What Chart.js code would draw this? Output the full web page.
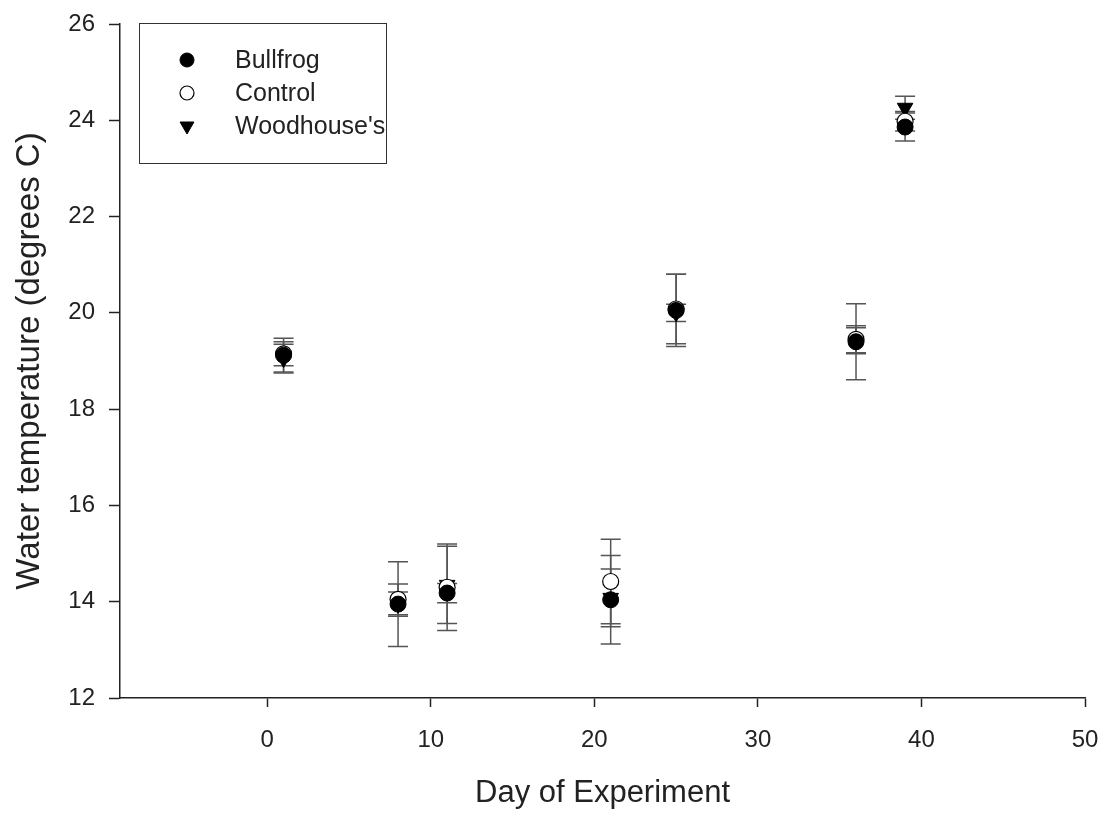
<!DOCTYPE html>
<html>
<head>
<meta charset="utf-8">
<title>Water temperature by day</title>
<script src="https://cdn.jsdelivr.net/npm/chart.js@4.4.1/dist/chart.umd.min.js"></script>
<style>
  html, body { margin: 0; padding: 0; background: #fff; }
  #wrap { width: 1105px; height: 815px; }
</style>
</head>
<body>
<div id="wrap"><canvas id="tempChart" width="1105" height="815"></canvas></div>
<script>
// sampling days and mean water temperature per tank type
const days = [1, 8, 11, 21, 25, 36, 39];

const bullfrog = [19.12, 13.95, 14.18, 14.04, 20.05, 19.40, 23.86];
const bullfrogErr = [0.35, 0.88, 0.20, 0.92, 0.75, 0.79, 0.29];

const control = [19.15, 14.05, 14.30, 14.42, 20.08, 19.45, 23.98];
const controlErr = [0.25, 0.32, 0.90, 0.88, 0.72, 0.28, 0.20];

const woodhouse = [19.05, 13.95, 14.35, 14.08, 20.00, 19.42, 24.26];
const woodhouseErr = [0.30, 0.25, 0.80, 0.60, 0.18, 0.27, 0.24];

const xTicks = [0, 10, 20, 30, 40, 50];
const yTicks = [12, 14, 16, 18, 20, 22, 24, 26];

const AXIS = "#222";
const FONT = "Arial, 'Liberation Sans', sans-serif";

function toPoints(values) {
  return days.map((d, i) => ({ x: d, y: values[i] }));
}

// fixed axis box sizes, no extra room for overhanging labels
function fitX(s) {
  s.height = 117;
  s.paddingLeft = 0;
  s.paddingRight = 0;
}

function fitY(s) {
  s.width = 120;
  s.paddingTop = 0;
  s.paddingBottom = 0;
}

// vertical error bars with caps, drawn under the markers
const errorBars = {
  id: "errorBars",
  beforeDatasetsDraw(chart) {
    const ctx = chart.ctx;
    const xs = chart.scales.x;
    const ys = chart.scales.y;
    ctx.save();
    ctx.strokeStyle = "#555";
    ctx.lineWidth = 1.5;
    chart.data.datasets.forEach(ds => {
      ds.data.forEach((p, i) => {
        const e = ds.errors[i];
        const x = xs.getPixelForValue(p.x);
        const top = ys.getPixelForValue(p.y + e);
        const bot = ys.getPixelForValue(p.y - e);
        ctx.beginPath();
        ctx.moveTo(x, top);
        ctx.lineTo(x, bot);
        ctx.moveTo(x - 10, top);
        ctx.lineTo(x + 10, top);
        ctx.moveTo(x - 10, bot);
        ctx.lineTo(x + 10, bot);
        ctx.stroke();
      });
    });
    ctx.restore();
  }
};

// boxed legend in the upper left corner of the plot
const boxLegend = {
  id: "boxLegend",
  afterDraw(chart) {
    const ctx = chart.ctx;
    ctx.save();
    ctx.strokeStyle = "#333";
    ctx.lineWidth = 1;
    ctx.strokeRect(139.5, 23.5, 247, 140);
    ctx.font = "25px " + FONT;
    ctx.textBaseline = "middle";
    ctx.textAlign = "left";
    chart.data.datasets.forEach((ds, i) => {
      const y = 60 + i * 33;
      ctx.fillStyle = ds.pointBackgroundColor;
      ctx.strokeStyle = ds.pointBorderColor;
      ctx.lineWidth = ds.pointBorderWidth;
      Chart.helpers.drawPoint(ctx, {
        pointStyle: ds.pointStyle,
        rotation: ds.pointRotation || 0,
        radius: ds.pointRadius - 1,
        borderWidth: ds.pointBorderWidth
      }, 187, y);
      ctx.fillStyle = "#222";
      ctx.fillText(ds.label, 235, y + 1);
    });
    ctx.restore();
  }
};

const datasets = [
  {
    label: "Bullfrog",
    data: toPoints(bullfrog),
    errors: bullfrogErr,
    pointStyle: "circle",
    pointRadius: 8,
    pointBackgroundColor: "#000",
    pointBorderColor: "#000",
    pointBorderWidth: 1
  },
  {
    label: "Control",
    data: toPoints(control),
    errors: controlErr,
    pointStyle: "circle",
    pointRadius: 8,
    pointBackgroundColor: "#fff",
    pointBorderColor: "#000",
    pointBorderWidth: 1.2
  },
  {
    label: "Woodhouse's",
    data: toPoints(woodhouse),
    errors: woodhouseErr,
    pointStyle: "triangle",
    pointRotation: 180,
    pointRadius: 9,
    pointBackgroundColor: "#000",
    pointBorderColor: "#000",
    pointBorderWidth: 1
  }
];

new Chart(document.getElementById("tempChart"), {
  type: "scatter",
  data: { datasets },
  options: {
    responsive: false,
    animation: false,
    layout: { padding: { top: 24, right: 20, left: 0, bottom: 0 } },
    plugins: {
      legend: { display: false },
      tooltip: { enabled: false }
    },
    scales: {
      x: {
        type: "linear",
        min: -9,
        max: 50,
        afterFit: fitX,
        afterBuildTicks: s => { s.ticks = xTicks.map(v => ({ value: v })); },
        border: { display: true, color: AXIS, width: 1.5 },
        grid: { drawOnChartArea: false, drawTicks: true, tickLength: 9, color: AXIS, tickWidth: 1.5 },
        ticks: { color: AXIS, padding: 19, font: { size: 24, family: FONT } },
        title: {
          display: true,
          text: "Day of Experiment",
          color: AXIS,
          font: { size: 31, family: FONT },
          padding: { top: 0, bottom: 3 }
        }
      },
      y: {
        min: 12,
        max: 26,
        afterFit: fitY,
        afterBuildTicks: s => { s.ticks = yTicks.map(v => ({ value: v })); },
        border: { display: true, color: AXIS, width: 1.5 },
        grid: { drawOnChartArea: false, drawTicks: true, tickLength: 11, color: AXIS, tickWidth: 1.5 },
        ticks: { color: AXIS, padding: 14, font: { size: 24, family: FONT } },
        title: {
          display: true,
          text: "Water temperature (degrees C)",
          color: AXIS,
          font: { size: 33, family: FONT },
          padding: { top: 10, bottom: 0 }
        }
      }
    }
  },
  plugins: [errorBars, boxLegend]
});
</script>
</body>
</html>
